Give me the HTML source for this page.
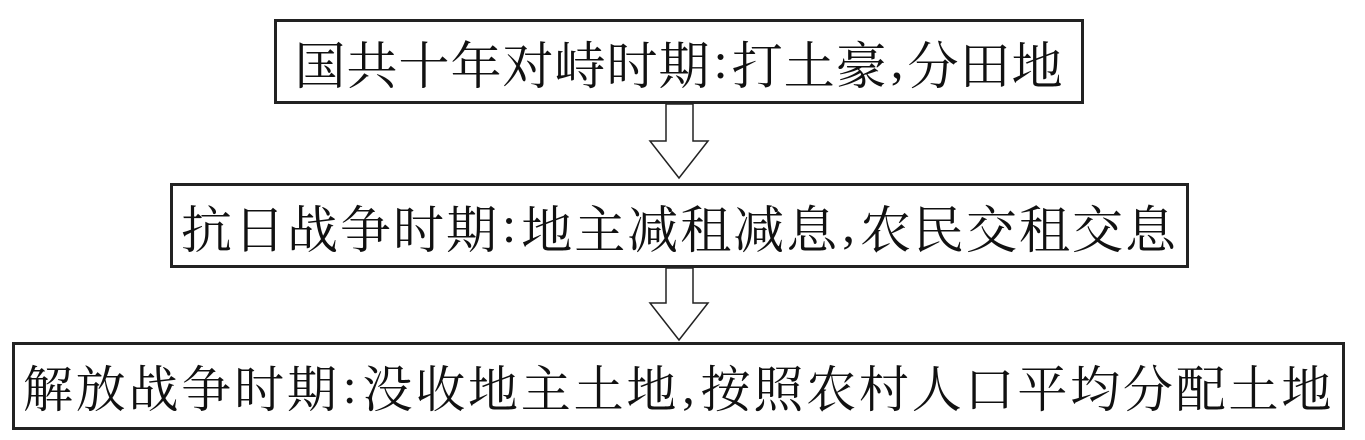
<!DOCTYPE html>
<html><head><meta charset="utf-8"><style>
html,body{margin:0;padding:0;background:#fff;}
body{width:1365px;height:440px;position:relative;overflow:hidden;}
.b{position:absolute;border:3px solid #222;box-sizing:border-box;display:flex;align-items:center;justify-content:center;font-family:"Liberation Serif","Noto Serif CJK SC",serif;color:#111;white-space:nowrap;}
.p{font-family:"Liberation Serif",serif;margin:0 3px;}
svg{position:absolute;left:0;top:0;}
</style></head><body>
<div class="b" style="left:274px;top:19px;width:810px;height:85px;font-size:51px;letter-spacing:1px;">国共十年对峙时期<span class="p">:</span>打土豪<span class="p">,</span>分田地</div>
<div class="b" style="left:170px;top:183px;width:1019px;height:85px;font-size:51px;letter-spacing:2px;">抗日战争时期<span class="p">:</span>地主减租减息<span class="p">,</span>农民交租交息</div>
<div class="b" style="left:12px;top:342px;width:1333px;height:88px;font-size:50px;letter-spacing:2.8px;">解放战争时期<span class="p">:</span>没收地主土地<span class="p">,</span>按照农村人口平均分配土地</div>
<svg width="1365" height="440">
<polygon points="666,104 693,104 693,141 708,141 679,178 650,141 666,141" fill="#fff" stroke="#222" stroke-width="1.5"/>
<polygon points="666,268 693,268 693,303 708,303 679,340 650,303 666,303" fill="#fff" stroke="#222" stroke-width="1.5"/>
</svg>
</body></html>
